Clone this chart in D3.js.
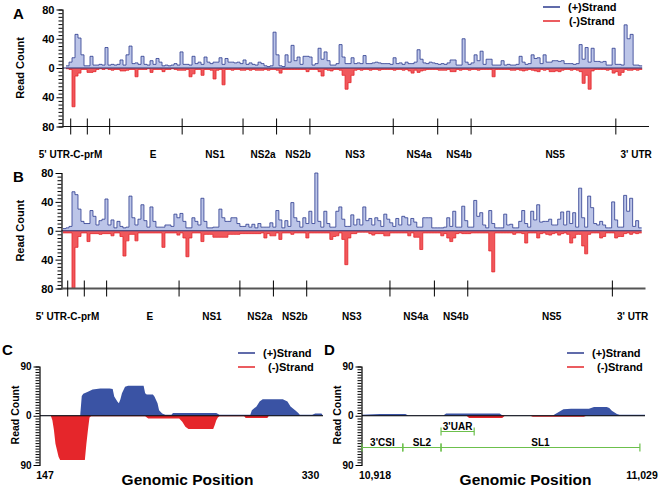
<!DOCTYPE html>
<html>
<head>
<meta charset="utf-8">
<script src="https://cdn.jsdelivr.net/npm/d3@7"></script>
<style>
  body { margin: 0; background: #fff; }
  text { font-family: "Liberation Sans", Arial, Helvetica, sans-serif; font-weight: bold; }
</style>
</head>
<body>
<svg id="chart" width="661" height="488"></svg>
<script>
// ---- data ----
// A / B: read counts per ~56 nt bin along the genome
const binSize = 56;
const genomeEnd = 10880;

const plusA = [
  3,8,14,46,41,18,3,3,16,4, 4,5,4,28,4,5,4,5,11,4,
  18,30,6,7,5,16,5,4,10,5, 13,8,3,4,3,4,6,4,22,5,
  5,4,16,6,8,5,15,8,6,8, 8,14,5,13,8,8,7,8,6,11,
  5,7,5,4,8,6,3,2,3,49, 18,3,2,18,8,31,10,15,5,16,
  16,15,4,6,27,12,22,10,4,4, 6,32,15,6,6,14,6,7,6,17,
  6,6,7,8,7,6,6,6,5,14, 6,7,5,8,6,6,8,25,12,7,
  6,8,7,6,5,6,5,7,11,11, 4,4,40,8,5,7,18,10,23,5,
  12,12,4,4,4,10,4,5,4,4, 5,16,8,5,6,18,13,14,6,18,
  8,8,10,10,9,10,6,6,6,5, 6,32,12,28,8,27,9,9,8,9,
  4,4,27,5,5,4,59,40,46,4, 4,3
];
const minusA = [
  1,2,53,11,7,2,2,6,6,5, 2,1,2,1,2,3,2,2,4,4,
  3,2,2,12,2,2,2,1,6,2, 2,2,5,2,2,1,2,3,3,3,
  2,12,8,2,2,10,2,2,3,15, 3,2,23,2,2,3,2,2,3,3,
  2,3,2,3,3,3,2,3,2,2, 3,7,2,2,2,2,2,2,2,2,
  5,2,2,2,5,11,2,3,4,2, 2,3,10,29,20,10,3,2,3,2,
  2,3,2,2,3,2,2,2,2,3, 2,2,3,2,4,7,3,6,4,3,
  2,2,2,2,3,3,3,2,5,5, 2,3,2,2,3,2,2,3,2,2,
  2,2,12,2,2,2,2,2,3,3, 2,3,4,3,2,3,4,5,2,3,
  2,5,5,4,5,3,2,2,3,2, 3,5,21,10,29,4,2,2,2,2,
  3,2,7,5,10,6,2,3,3,2, 3,2
];
const plusB = [
  3,4,6,54,50,30,13,10,10,28, 20,8,14,16,44,8,15,4,13,6,
  4,5,48,18,8,16,36,14,5,33, 13,5,5,5,8,8,6,23,18,24,
  13,4,4,18,13,8,45,13,4,4, 5,5,30,18,13,13,18,18,10,6,
  6,9,5,9,4,10,5,5,5,11, 5,28,15,4,14,6,39,18,13,5,
  18,10,27,10,80,13,5,27,10,5, 5,27,33,16,6,6,22,8,16,8,
  33,14,17,8,18,14,6,23,16,11, 6,17,8,20,18,8,17,12,5,5,
  18,18,18,4,4,4,4,5,18,6, 27,5,5,34,14,5,5,42,20,25,
  8,4,28,10,4,4,4,23,8,9, 4,4,13,28,10,5,27,15,36,12,
  13,13,16,8,8,16,26,8,27,10, 25,5,59,18,5,48,32,10,8,13,
  8,4,4,40,15,5,5,49,27,45, 6,14,4
];
const minusB = [
  3,3,3,80,23,8,3,3,15,4, 4,4,5,4,4,4,7,3,3,8,
  35,14,5,5,14,3,3,3,3,3, 3,3,3,23,3,3,3,3,6,3,
  10,36,10,3,3,3,15,5,5,5, 9,9,9,9,9,5,5,5,5,4,
  4,4,4,4,4,4,3,10,4,7, 7,3,12,3,3,3,5,3,3,3,
  3,10,3,3,3,3,3,3,3,12, 8,7,3,12,47,10,4,4,2,2,
  2,2,4,6,4,4,4,7,7,3, 3,3,3,3,3,7,3,9,9,26,
  3,3,3,3,3,3,7,4,10,15, 10,4,3,4,4,4,3,3,3,3,
  3,3,28,57,3,3,3,3,3,3, 5,3,3,4,17,3,3,3,10,4,
  3,5,6,4,3,6,4,3,5,17, 10,5,5,21,32,5,3,3,3,10,
  8,3,3,3,10,8,8,4,3,5, 3,4,3
];

// gene map
const geneBounds = [88, 398, 815, 2168, 3304, 3930, 4552, 6107, 6937, 7560, 10261];
const geneNames = ["5' UTR-C-prM", "E", "NS1", "NS2a", "NS2b", "NS3", "NS4a", "NS4b", "NS5", "3' UTR"];
const geneLabelPos = [84, 1624, 2781, 3677, 4331, 5395, 6589, 7336, 9128, 10640];

// C: 5' region, positions 147-330
const cPlusPos = [147,173,174,175,178,181,186,192,194,195,197,198,199,200,202,204,214,215,216,220,221,223,224,226,228,232,233,261,263,283,284,287,289,291,304,307,309,312,314,315,323,325,329,330];
const cPlusVal = [1,1,36,40,44,48,50,50,49,35,26,23,30,41,53,55,55,41,39,39,35,23,10,4,2,2,5,5,2,2,10,17,26,30,30,26,17,10,5,2,2,4,4,0];
const cMinusPos = [147,154,155,156,157,158,159,160,176,177,178,179,180,215,217,237,239,241,243,259,260,261,262,263,279,280,294,295,330];
const cMinusVal = [0,0,8,26,51,63,75,81,81,51,26,3,1,1,5,5,11,20,24,24,17,8,3,1,1,4,4,0,0];

// D: 3' region, positions 10918-11029
const dPlusPos = [10918,10925,10935,10936,10950,10951,10972,10973,10993,10996,10997,11000,11007,11009,11014,11015,11016,11018,11019,11029];
const dPlusVal = [2,3,3,1,1,4,4,1,1,9,12,13,13,16,16,14,9,3,2,2];
const dMinusPos = [10918,10959,10960,10973,10974,10984,10985,11005,11006,11029];
const dMinusVal = [0,0,4,4,0,0,2,2,0,0];

// D: RNA elements
const dElemNames = ["3'CSI", "SL2", "SL1", "3'UAR"];
const dElemStart = [10918, 10934, 10949, 10949];
const dElemEnd = [10934, 10949, 11027, 10962];
const dElemRow = [0, 0, 0, 1];

// ---- drawing ----
const darkBlue = "#2b3a8e";
const lightBlue = "#bcc5e8";
const red = "#e5262b";
const lightRed = "#f0585c";
const solidBlue = "#3a53a4";
const green = "#6cc04c";

const svg = d3.select("#chart");

function yAxis(g, y, axisX, maxV, majors, fontSize) {
  const ax = g.append("g")
    .attr("transform", `translate(${axisX},0)`)
    .call(d3.axisLeft(y)
      .tickValues(d3.range(-maxV, maxV + 1, 5))
      .tickSizeOuter(0)
      .tickSize(4)
      .tickPadding(4)
      .tickFormat(d => majors.includes(d) ? Math.abs(d) : ""));
  ax.attr("font-family", null).attr("font-size", fontSize);
  ax.select(".domain").attr("stroke", "#000").attr("stroke-width", 1.2);
  ax.selectAll(".tick line")
    .attr("stroke", "#000")
    .attr("x1", 0)
    .attr("x2", d => majors.includes(d) ? -6 : -4);
  ax.selectAll(".tick text").attr("fill", "#000").attr("x", -8);
}

function readCountLabel(g, x, y, size) {
  g.append("text")
    .attr("transform", `translate(${x},${y}) rotate(-90)`)
    .attr("text-anchor", "middle")
    .attr("font-size", size)
    .text("Read Count");
}

function legend(g, x, y, len, dx2) {
  g.append("line").attr("x1", x).attr("x2", x + len).attr("y1", y).attr("y2", y)
    .attr("stroke", darkBlue).attr("stroke-width", 1.5);
  g.append("text").attr("x", x + len + 8).attr("y", y + 4).attr("font-size", 11).text("(+)Strand");
  g.append("line").attr("x1", x).attr("x2", x + len).attr("y1", y + 14).attr("y2", y + 14)
    .attr("stroke", red).attr("stroke-width", 1.5);
  g.append("text").attr("x", x + len + 8 + dx2).attr("y", y + 18).attr("font-size", 11).text("(-)Strand");
}

function genomePanel(o) {
  const g = svg.append("g");
  const x = d3.scaleLinear().domain([0, genomeEnd]).range([o.left, o.right]);
  const y = d3.scaleLinear().domain([-80, 80]).range([o.bottom, o.top]);

  const pts = arr => arr.map((v, i) => ({ pos: i * binSize, v }))
    .concat([{ pos: arr.length * binSize, v: arr[arr.length - 1] }]);
  const area = s => d3.area().curve(d3.curveStepAfter)
    .x(d => x(d.pos)).y0(y(0)).y1(d => y(s * d.v));
  const line = s => d3.line().curve(d3.curveStepAfter)
    .x(d => x(d.pos)).y(d => y(s * d.v));

  g.append("path").datum(pts(o.plus)).attr("d", area(1)).attr("fill", lightBlue);
  g.append("path").datum(pts(o.plus)).attr("d", line(1))
    .attr("fill", "none").attr("stroke", darkBlue).attr("stroke-width", 0.8);
  g.append("path").datum(pts(o.minus)).attr("d", area(-1)).attr("fill", lightRed);
  g.append("path").datum(pts(o.minus)).attr("d", line(-1))
    .attr("fill", "none").attr("stroke", red).attr("stroke-width", 0.8);

  // zero line
  g.append("line")
    .attr("x1", o.axisX).attr("x2", x(o.plus.length * binSize))
    .attr("y1", y(0)).attr("y2", y(0))
    .attr("stroke", "#2a2f6e").attr("stroke-width", 1);

  yAxis(g, y, o.axisX, 80, [-80, -40, 0, 40, 80], 11);
  readCountLabel(g, 24, y(0), 11);

  // gene track
  const ty = y(-80);
  g.append("line").attr("x1", o.axisX).attr("x2", x(genomeEnd)).attr("y1", ty).attr("y2", ty)
    .attr("stroke", o.trackColor).attr("stroke-width", o.trackWidth);
  g.selectAll(".gtick").data(geneBounds).enter().append("line")
    .attr("x1", d => x(d)).attr("x2", d => x(d))
    .attr("y1", ty - 8).attr("y2", ty + 8)
    .attr("stroke", "#000").attr("stroke-width", 1);
  g.selectAll(".gname").data(geneNames).enter().append("text")
    .attr("x", (d, i) => x(geneLabelPos[i]))
    .attr("y", ty + 31)
    .attr("text-anchor", "middle")
    .attr("font-size", 10)
    .text(d => d);

  g.append("text").attr("x", 13).attr("y", o.top + 9).attr("font-size", 15).text(o.letter);
}

genomePanel({ letter: "A", plus: plusA, minus: minusA, left: 66, right: 649, top: 9.5, bottom: 126.5,
  axisX: 62.5, trackColor: "#111", trackWidth: 1.2 });
genomePanel({ letter: "B", plus: plusB, minus: minusB, left: 63, right: 645.5, top: 173, bottom: 288.5,
  axisX: 61.5, trackColor: "#555", trackWidth: 2 });
legend(svg, 543, 7, 17, 1);

function regionPanel(o) {
  const g = svg.append("g");
  const x = d3.scaleLinear().domain(o.domain).range([o.left, o.right]);
  const y = d3.scaleLinear().domain([-90, 90]).range([465, 366.5]);

  const area = s => d3.area().x(d => x(d[0])).y0(y(0)).y1(d => y(s * d[1]));
  g.append("path").datum(d3.zip(o.plusPos, o.plusVal)).attr("d", area(1)).attr("fill", solidBlue);
  g.append("path").datum(d3.zip(o.minusPos, o.minusVal)).attr("d", area(-1)).attr("fill", red);
  g.append("line").attr("x1", o.left).attr("x2", o.right).attr("y1", y(0)).attr("y2", y(0))
    .attr("stroke", "#000").attr("stroke-width", 1.2);

  yAxis(g, y, o.left - 0.5, 90, [-90, 0, 90], 10);
  readCountLabel(g, o.left - 21, 415, 10.5);

  g.append("text").attr("x", o.startX).attr("y", 479).attr("text-anchor", "middle")
    .attr("font-size", 10.5).text(o.startLabel);
  g.append("text").attr("x", o.endX).attr("y", 479).attr("text-anchor", "middle")
    .attr("font-size", 10.5).text(o.endLabel);
  g.append("text").attr("x", (o.left + o.right) / 2 + o.titleDx).attr("y", 485).attr("text-anchor", "middle")
    .attr("font-size", 15.5).text("Genomic Position");
  g.append("text").attr("x", o.letterX).attr("y", 355).attr("font-size", 15).text(o.letter);

  legend(g, o.legendX, 353, 17, 5);
  return { g, x, y };
}

regionPanel({ letter: "C", letterX: 2, domain: [147, 330], left: 40, right: 323,
  plusPos: cPlusPos, plusVal: cPlusVal, minusPos: cMinusPos, minusVal: cMinusVal,
  startLabel: "147", startX: 45, endLabel: "330", endX: 310.5, titleDx: 6, legendX: 238 });

const d = regionPanel({ letter: "D", letterX: 324, domain: [10918, 11029], left: 362, right: 645,
  plusPos: dPlusPos, plusVal: dPlusVal, minusPos: dMinusPos, minusVal: dMinusVal,
  startLabel: "10,918", startX: 375, endLabel: "11,029", endX: 642, titleDx: 22, legendX: 567 });

// RNA elements of panel D
const rowY = [447.5, 431.5];
const elems = dElemNames.map((n, i) => ({ n, s: dElemStart[i], e: dElemEnd[i], r: dElemRow[i] }));
const eg = d.g.append("g");
eg.selectAll(".seg").data(elems).enter().append("line")
  .attr("x1", e => d.x(e.s)).attr("x2", e => d.x(e.e))
  .attr("y1", e => rowY[e.r]).attr("y2", e => rowY[e.r])
  .attr("stroke", green).attr("stroke-width", 1.2);
elems.forEach(e => {
  [e.s, e.e].forEach(p => {
    eg.append("line").attr("x1", d.x(p)).attr("x2", d.x(p))
      .attr("y1", rowY[e.r] - 4).attr("y2", rowY[e.r] + 4)
      .attr("stroke", green).attr("stroke-width", 1.2);
  });
});
eg.selectAll(".elab").data(elems).enter().append("text")
  .attr("x", e => d.x((e.s + e.e) / 2))
  .attr("y", e => rowY[e.r] - 2)
  .attr("text-anchor", "middle")
  .attr("font-size", 10)
  .text(e => e.n);
</script>
</body>
</html>
